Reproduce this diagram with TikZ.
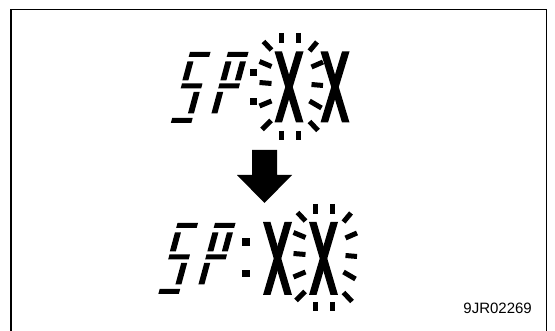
\documentclass[tikz,border=0pt]{standalone}
\usepackage{fontspec}
\setmainfont{Liberation Sans}
\newcommand\sg[4]{\fill (#1,#3) -- (#2,#3) -- (#2,#4) -- (#1,#4) -- cycle;}
\newcommand\digS{\sg{0}{20.5}{0}{5}\sg{0}{6}{9.5}{28.5}\sg{0.5}{21}{31.5}{36.5}\sg{14.5}{20.5}{40}{61.5}\sg{0}{20.5}{66}{71}}
\newcommand\digP{\sg{0}{20.5}{0}{5}\sg{0}{6}{9.5}{28.5}\sg{14.5}{20.5}{9.5}{28.5}\sg{0}{20.5}{31.5}{36.5}\sg{0}{6}{40}{61.5}}
\newcommand\bigX[3]{%
  \fill (#1,#2) -- ++(7.5,0) -- (#1+29,#3) -- ++(-7.5,0) -- cycle;
  \fill (#1+21.5,#2) -- ++(7.5,0) -- (#1+7.5,#3) -- ++(-7.5,0) -- cycle;}
\newcommand\burst[2]{%
  \begin{scope}[shift={(#1,#2)}]
    \draw[burstray] (-8.5,-53) -- (-8.5,-42.5);
    \draw[burstray] (8.5,-53) -- (8.5,-42.5);
    \draw[burstray] (-8.5,45) -- (-8.5,54.5);
    \draw[burstray] (8.5,45) -- (8.5,54.5);
    \draw[burstray] (-26.5,-44.5) -- (-18.5,-36);
    \draw[burstray] (27,-44) -- (19.5,-35);
    \draw[burstray] (-30.5,-24.5) -- (-18.5,-19.5);
    \draw[burstray] (33,-24) -- (21.5,-19);
    \draw[burstray] (-30.5,-3.5) -- (-18.5,-2.5);
    \draw[burstray] (33,-0.5) -- (21.5,-1.5);
    \draw[burstray] (-30.5,20) -- (-18.5,15);
    \draw[burstray] (31.5,22) -- (19.5,15);
    \draw[burstray] (-28,43.5) -- (-19,34.5);
    \draw[burstray] (28,44.5) -- (19.5,35.5);
  \end{scope}}
\begin{document}
\begin{tikzpicture}[x=1pt,y=-1pt,
  burstray/.style={line width=5pt, line cap=butt}]
\useasboundingbox (0,0) rectangle (555,331);
\clip (0,0) rectangle (555,331);
\draw[line width=1.5pt] (10.75,9.75) rectangle (546.25,345);
% top row
\begin{scope}[shift={(190,52)},xslant=0.27] \digS \end{scope}
\begin{scope}[shift={(228,52)},xslant=0.27] \digP \end{scope}
\fill (250,69) rectangle (257,76);
\fill (250,98.5) rectangle (257,105.5);
\bigX{274.5}{51.5}{122.5}
\bigX{320.5}{51.5}{122.5}
\burst{290}{86}
% arrow
\fill (252,150) -- (277,150) -- (277,175) -- (292,175) -- (264.5,203) -- (237,175) -- (252,175) -- cycle;
% bottom row
\begin{scope}[shift={(177.5,223)},xslant=0.27] \digS \end{scope}
\begin{scope}[shift={(215,223)},xslant=0.27] \digP \end{scope}
\fill (242,238.5) rectangle (249.5,246);
\fill (242,270) rectangle (249.5,277.5);
\bigX{263}{222}{295}
\bigX{309}{222}{295}
\burst{324}{257}
\node[anchor=base east, font=\fontsize{15}{15}\selectfont, inner sep=0] (code) at (532,314) {9JR02269};
\end{tikzpicture}
\end{document}
